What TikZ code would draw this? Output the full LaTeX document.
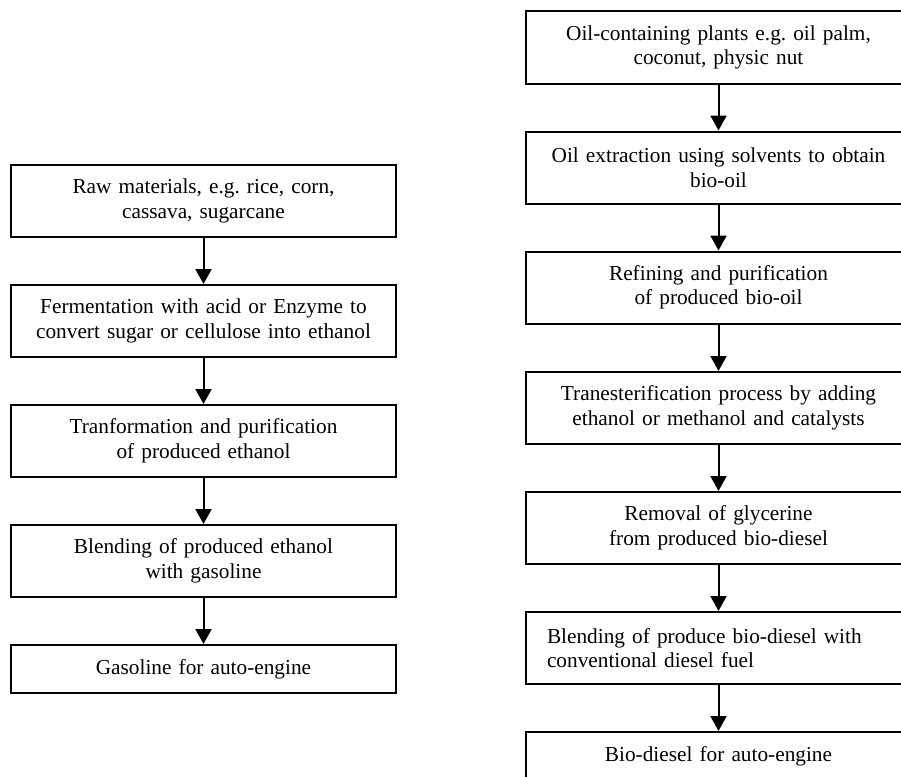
\documentclass[tikz,border=0pt]{standalone}
\usepackage{fontspec}
\setmainfont{Liberation Serif}
\frenchspacing
\usepackage{tikz}
\usetikzlibrary{positioning,arrows.meta,shapes}
\tikzstyle{process} = [rectangle, draw=black, line width=2pt, minimum width=385pt, text width=343pt, inner xsep=21pt, inner ysep=2pt, align=center, font=\fontsize{21.3pt}{24.5pt}\selectfont]
\tikzstyle{twoline} = [minimum height=72pt]
\tikzstyle{oneline} = [minimum height=48pt]
\tikzstyle{arrow} = [line width=2pt, -{Triangle[width=16pt,length=15pt]}]

\begin{document}
\begin{tikzpicture}[x=1pt, y=-1pt]
            \useasboundingbox (0,0) rectangle (901,776);
            \clip (0,0) rectangle (901,776);

            % ethanol route
            \node[process, twoline] (raw) at (203.5,201) {Raw materials, e.g. rice, corn,\\cassava, sugarcane};
            \node[process, twoline] (ferment) at (203.5,321) {Fermentation with acid or Enzyme to\\convert sugar or cellulose into ethanol};
            \node[process, twoline] (purify) at (203.5,441) {Tranformation and purification\\of produced ethanol};
            \node[process, twoline] (blendeth) at (203.5,561) {Blending of produced ethanol\\with gasoline};
            \node[process, oneline] (gasoline) at (203.5,669) {Gasoline for auto-engine};

            % bio-diesel route
            \node[process, twoline] (plants) at (718.5,47.5) {Oil-containing plants e.g. oil palm,\\coconut, physic nut};
            \node[process, twoline] (extract) at (718.5,167.5) {Oil extraction using solvents to obtain\\bio-oil};
            \node[process, twoline] (refine) at (718.5,287.5) {Refining and purification\\of produced bio-oil};
            \node[process, twoline] (transest) at (718.5,408) {Tranesterification process by adding\\ethanol or methanol and catalysts};
            \node[process, twoline] (glycerine) at (718.5,528) {Removal of glycerine\\from produced bio-diesel};
            \node[process, twoline, align=left] (blenddie) at (718.5,648) {Blending of produce bio-diesel with\\conventional diesel fuel};
            \node[process, oneline] (biodiesel) at (718.5,756) {Bio-diesel for auto-engine};

            \draw[arrow] (raw) -- (ferment);
            \draw[arrow] (ferment) -- (purify);
            \draw[arrow] (purify) -- (blendeth);
            \draw[arrow] (blendeth) -- (gasoline);
            \draw[arrow] (plants) -- (extract);
            \draw[arrow] (extract) -- (refine);
            \draw[arrow] (refine) -- (transest);
            \draw[arrow] (transest) -- (glycerine);
            \draw[arrow] (glycerine) -- (blenddie);
            \draw[arrow] (blenddie) -- (biodiesel);
            \end{tikzpicture}
\end{document}
